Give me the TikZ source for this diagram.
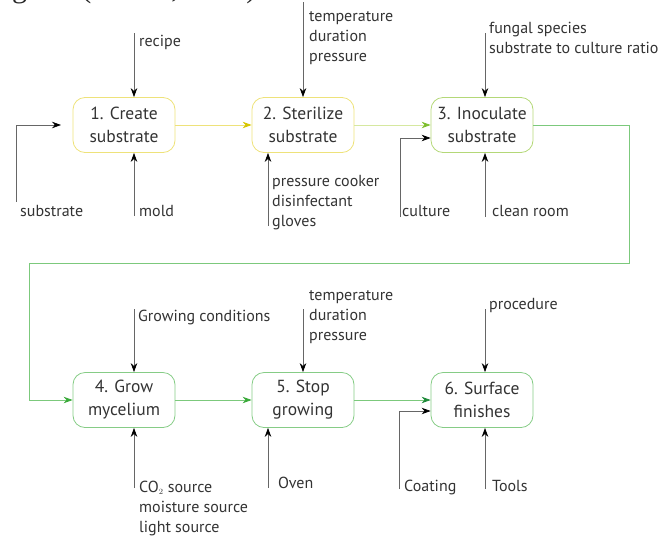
\documentclass[tikz,border=0pt]{standalone}
\usepackage{fontspec}
\setmainfont{PT Sans}
\newfontfamily\capserif{Liberation Serif}
\usetikzlibrary{arrows.meta}
\definecolor{ylw}{HTML}{EEE27A}
\definecolor{ylwhead}{HTML}{D6C600}
\definecolor{ygreen}{HTML}{B4D878}
\definecolor{ygline}{HTML}{D6E8A0}
\definecolor{ghead}{HTML}{7DBE2E}
\definecolor{grn}{HTML}{86CC86}
\definecolor{gline}{HTML}{7CC97C}
\definecolor{ghead2}{HTML}{3AAA3A}
\definecolor{ghead3}{HTML}{1E8A3A}
\definecolor{lgray}{HTML}{666666}
\begin{document}
\begin{tikzpicture}[x=1pt,y=-1pt,
  box/.style={draw, rounded corners=12pt, minimum width=102pt, minimum height=55pt,
    align=center, font=\fontsize{17.5}{23}\selectfont, line width=0.8pt, inner sep=0pt, text=black!80},
  lbl/.style={anchor=base west, align=left, font=\fontsize{16}{20}\selectfont, inner sep=0pt, text=black!80},
  inarr/.style={draw=lgray, line width=0.7pt, -{Stealth[length=9pt,width=6.5pt,black]}},
  flow/.style={line width=0.8pt}]
\path[use as bounding box] (0,0) rectangle (660,536);
\node[anchor=base east, inner sep=0pt, font=\capserif\fontsize{30}{30}\selectfont, text=black!85] (cap) at (264,-3) {agram (Peirret, 2018).};

% boxes
\node[box, draw=ylw] (b1) at (124,125) {1. Create\\substrate};
\node[box, draw=ylw] (b2) at (303,125) {2. Sterilize\\substrate};
\node[box, draw=ygreen] (b3) at (482,125) {3. Inoculate\\substrate};
\node[box, draw=grn] (b4) at (124,400) {4. Grow\\mycelium};
\node[box, draw=grn] (b5) at (303,400) {5. Stop\\growing};
\node[box, draw=grn] (b6) at (482,400) {6. Surface\\finishes};

% flow arrows
\draw[flow, draw=ylw, -{Stealth[length=9pt,width=6.5pt,ylwhead]}] (b1.east) -- (b2.west);
\draw[flow, draw=ygline, -{Stealth[length=9pt,width=6.5pt,ghead]}] (b2.east) -- (b3.west);
\coordinate (l1) at (629,125);
\coordinate (l2) at (629,263);
\coordinate (l3) at (29,263);
\coordinate (l4) at (29,400);
\draw[flow, draw=gline, -{Stealth[length=9pt,width=6.5pt,ghead2]}] (b3.east) -- (l1) -- (l2) -- (l3) -- (l4) -- (b4.west);
\draw[flow, draw=gline, -{Stealth[length=9pt,width=6.5pt,ghead2]}] (b4.east) -- (b5.west);
\draw[flow, draw=gline, -{Stealth[length=9pt,width=6.5pt,ghead3]}] (b5.east) -- (b6.west);

% labels row 1 (base = baseline of last line)
\node[lbl] (recipe) at (139,46) {recipe};
\node[lbl] (t1) at (309,61) {temperature\\duration\\pressure};
\node[lbl] (fung) at (489,53) {fungal species\\substrate to culture ratio};
\node[lbl] (subs) at (20,216) {substrate};
\node[lbl] (mold) at (139,216) {mold};
\node[lbl] (pc) at (272,226) {pressure cooker\\disinfectant\\gloves};
\node[lbl] (cult) at (402,216) {culture};
\node[lbl] (clean) at (492,216) {clean room};

% labels row 2
\node[lbl] (grow) at (138,321) {Growing conditions};
\node[lbl] (t2) at (309,340) {temperature\\duration\\pressure};
\node[lbl] (proc) at (489,309) {procedure};
\node[lbl] (co2) at (139,532) {CO$_{\scriptscriptstyle 2}$ source\\moisture source\\light source};
\node[lbl] (oven) at (278,488) {Oven};
\node[lbl] (coat) at (404,491) {Coating};
\node[lbl] (tools) at (492,491) {Tools};

% input arrows row 1
\coordinate (a1) at (134,33);
\draw[inarr] (a1) -- (b1.north -| a1);
\coordinate (a2) at (134,216);
\draw[inarr] (a2) -- (b1.south -| a2);
\coordinate (a3) at (16,202);
\coordinate (a3b) at (16,125);
\coordinate (a3c) at (61,125);
\draw[inarr] (a3) -- (a3b) -- (a3c);
\coordinate (a4) at (303,2);
\draw[inarr] (a4) -- (b2.north);
\coordinate (a5) at (268,226);
\draw[inarr] (a5) -- (b2.south -| a5);
\coordinate (a6) at (485,33);
\draw[inarr] (a6) -- (b3.north -| a6);
\coordinate (a7) at (485,217);
\draw[inarr] (a7) -- (b3.south -| a7);
\coordinate (a8) at (400,217);
\coordinate (a8b) at (400,138);
\draw[inarr] (a8) -- (a8b) -- (b3.west |- a8b);

% input arrows row 2
\coordinate (c1) at (134,309);
\draw[inarr] (c1) -- (b4.north -| c1);
\coordinate (c2) at (134,488);
\draw[inarr] (c2) -- (b4.south -| c2);
\coordinate (c3) at (303,309);
\draw[inarr] (c3) -- (b5.north);
\coordinate (c4) at (268,488);
\draw[inarr] (c4) -- (b5.south -| c4);
\coordinate (c5) at (485,309);
\draw[inarr] (c5) -- (b6.north -| c5);
\coordinate (c6) at (485,489);
\draw[inarr] (c6) -- (b6.south -| c6);
\coordinate (c7) at (399,489);
\coordinate (c7b) at (399,411);
\draw[inarr] (c7) -- (c7b) -- (b6.west |- c7b);
\end{tikzpicture}
\end{document}
